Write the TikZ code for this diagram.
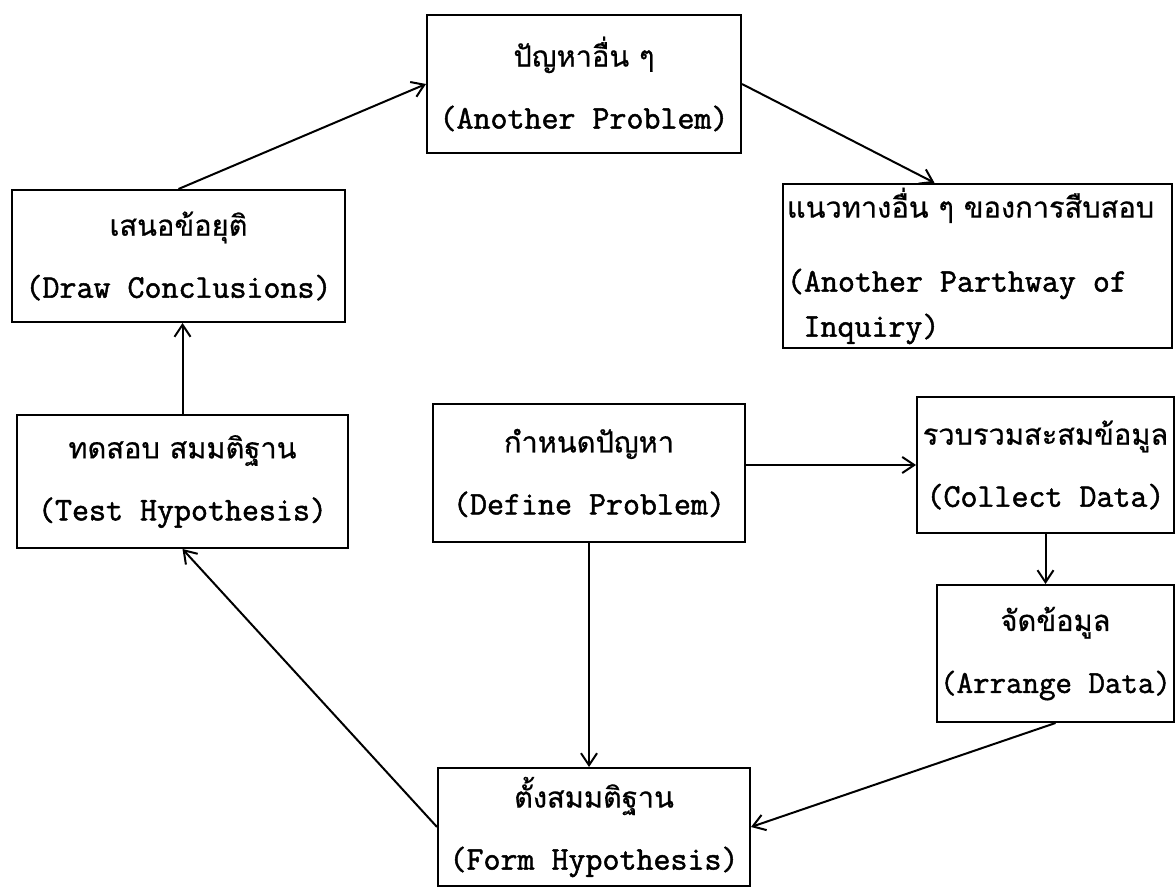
\documentclass[tikz,border=0pt]{standalone}
\usepackage{fontspec}
\newfontfamily\thaifont[Script=Thai,FakeBold=0.6]{Loma}
\newfontfamily\typefont[FakeBold=1.5,WordSpace={1,0,0}]{Latin Modern Mono}
\usetikzlibrary{arrows.meta,calc}

\tikzset{
  box/.style={draw, line width=2pt, inner xsep=0pt, inner ysep=4pt, align=center,
    font=\typefont\fontsize{33}{62}\selectfont},
  flow/.style={line width=2pt,
    -{Straight Barb[length=12pt,width=16pt,line width=2pt]}}
}
\newcommand{\thailine}[1]{\mbox{\thaifont\fontsize{29}{62}\selectfont #1}}

\begin{document}
\begin{tikzpicture}[x=1pt,y=-1pt]
    \pgfmathsetmacro {\pw}{1176}  %Width of picture
    \pgfmathsetmacro {\ph}{890}   %Height of picture
    \useasboundingbox (0,0) rectangle (\pw,\ph);

    %Top row
    \node[box, minimum width=314pt, minimum height=138pt] (prob) at (584,84)
        {\thailine{ปัญหาอื่น ๆ}\\(Another Problem)};
    \node[box, minimum width=389pt, minimum height=164pt, text width=381pt,
          inner xsep=4pt, align=left] (path) at (977.5,266)
        {\spaceskip=0pt\xspaceskip=0pt
         \thailine{แนวทางอื่น ๆ ของการสืบสอบ}\\[12pt](Another Parthway of\\[-17pt]\hspace*{0.5em}Inquiry)};
    \node[box, minimum width=333pt, minimum height=132pt] (concl) at (178.5,256)
        {\thailine{เสนอข้อยุติ}\\(Draw Conclusions)};

    %Middle row
    \node[box, minimum width=331pt, minimum height=133pt] (test) at (182.5,481.5)
        {\thailine{ทดสอบ สมมติฐาน}\\(Test Hypothesis)};
    \node[box, minimum width=312pt, minimum height=138pt] (define) at (589,473)
        {\thailine{กำหนดปัญหา}\\(Define Problem)};
    \node[box, minimum width=257pt, minimum height=136pt] (collect) at (1045.5,465)
        {\thailine{รวบรวมสะสมข้อมูล}\\(Collect Data)};
    \node[box, minimum width=237pt, minimum height=137pt,
          font=\typefont\fontsize{32}{62}\selectfont] (arrange) at (1055.5,653.5)
        {\thailine{จัดข้อมูล}\\(Arrange Data)};

    %Bottom box
    \node[box, minimum width=312pt, minimum height=118pt] (form) at (594,827)
        {\thailine{ตั้งสมมติฐาน}\\(Form Hypothesis)};

    %Draw the cycle
    \draw[flow] (define.east |- collect.west) -- (collect.west);
    \draw[flow] (collect.south) -- (collect.south |- arrange.north);
    \draw[flow] (arrange.south) -- (form.east);
    \draw[flow] (define.south) -- (define.south |- form.north);
    \draw[flow] (form.west) -- (test.south);
    \draw[flow] (test.north) -- (test.north |- concl.south);
    \draw[flow] (concl.north) -- (prob.west);
    \draw[flow] (prob.east) -- ($(path.north west)!0.39!(path.north east)$);
\end{tikzpicture}
\end{document}
